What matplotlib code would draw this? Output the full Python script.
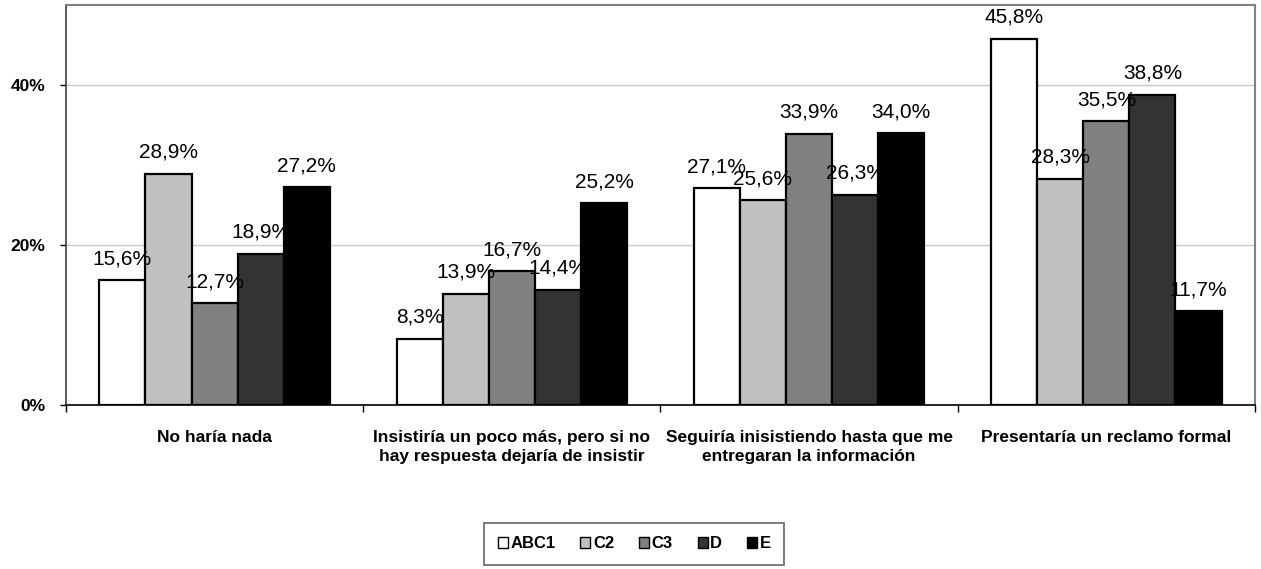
import matplotlib.pyplot as plt
import numpy as np

plt.rcParams['font.family'] = ['Liberation Sans', 'DejaVu Sans']

categorias = ['No haría nada',
              'Insistiría un poco más, pero si no\nhay respuesta dejaría de insistir',
              'Seguiría inisistiendo hasta que me\nentregaran la información',
              'Presentaría un reclamo formal']
grupos = ['ABC1', 'C2', 'C3', 'D', 'E']
abc1 = [15.6, 8.3, 27.1, 45.8]
c2 = [28.9, 13.9, 25.6, 28.3]
c3 = [12.7, 16.7, 33.9, 35.5]
d = [18.9, 14.4, 26.3, 38.8]
e = [27.2, 25.2, 34.0, 11.7]
colores = ['#FFFFFF', '#C0C0C0', '#808080', '#333333', '#000000']

fig = plt.figure(figsize=(12.61, 5.69), dpi=100)
ax = fig.add_axes([0.0523, 0.2882, 0.9429, 0.703])

x = np.arange(len(categorias))
ancho = 0.155
series = [abc1, c2, c3, d, e]
for i, (serie, color) in enumerate(zip(series, colores)):
    pos = x + (i - 2) * ancho
    ax.bar(pos, serie, ancho, color=color, edgecolor='black',
           linewidth=1.6, label=grupos[i], zorder=3)
    for p, v in zip(pos, serie):
        ax.text(p, v + 1.5, f'{v:.1f}%'.replace('.', ','), ha='center',
                va='bottom', fontsize=15, zorder=4)

ax.set_xlim(-0.5, 3.5)
ax.set_ylim(0, 50)
ax.set_yticks([0, 20, 40])
ax.set_yticklabels(['0%', '20%', '40%'], fontweight='bold', fontsize=12.5)
ax.yaxis.grid(True, color='#C8C8C8', linewidth=1, zorder=0)
ax.tick_params(axis='y', length=4, width=1, direction='out', pad=11)

ax.set_xticks([-0.5, 0.5, 1.5, 2.5, 3.5])
ax.set_xticklabels([])
ax.tick_params(axis='x', length=5, width=1, direction='out')
ax.set_xticks(x, minor=True)
ax.set_xticklabels(categorias, minor=True, fontweight='bold', fontsize=12.5,
                   linespacing=1.3)
ax.tick_params(axis='x', which='minor', length=0, pad=18)

for lado in ['top', 'right']:
    ax.spines[lado].set_color('#808080')
    ax.spines[lado].set_linewidth(1.5)
ax.spines['left'].set_color('#404040')
ax.spines['bottom'].set_color('black')
ax.spines['left'].set_linewidth(1.2)
ax.spines['bottom'].set_linewidth(1.2)

leg = fig.legend(loc='center', bbox_to_anchor=(0.503, 0.044), ncol=5,
                 prop={'weight': 'bold', 'size': 12}, handlelength=0.6,
                 handleheight=0.6, handletextpad=0.15, columnspacing=1.5,
                 fancybox=False, edgecolor='#404040', borderpad=0.8)
leg.get_frame().set_linewidth(1.2)
for h in leg.legend_handles:
    h.set_linewidth(1.0)

plt.savefig('out.png', dpi=100)
